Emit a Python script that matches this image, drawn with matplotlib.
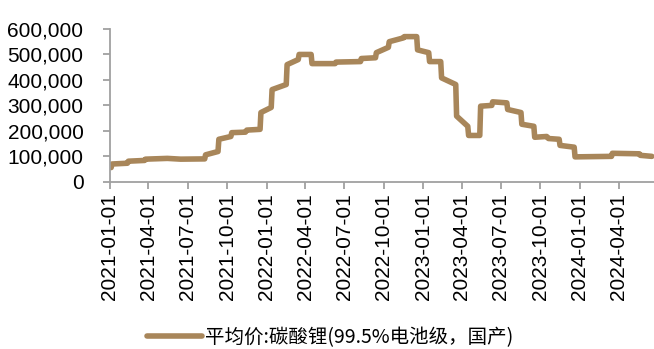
import matplotlib
matplotlib.use("Agg")
import matplotlib.pyplot as plt
import matplotlib.dates as mdates
import matplotlib.ticker as mticker
import pandas as pd

# 平均价:碳酸锂(99.5%电池级,国产) - change points
dates = ["2021-01-04", "2021-01-06", "2021-02-11", "2021-02-13", "2021-03-23", "2021-03-25",
         "2021-05-15", "2021-06-15", "2021-08-10", "2021-08-12", "2021-09-10", "2021-09-12",
         "2021-10-10", "2021-10-12", "2021-11-13", "2021-11-16", "2021-12-17", "2021-12-19",
         "2022-01-12", "2022-01-14", "2022-02-16", "2022-02-18", "2022-03-16", "2022-03-18",
         "2022-04-15", "2022-04-17", "2022-06-10", "2022-06-12", "2022-08-08", "2022-08-10",
         "2022-09-12", "2022-09-14", "2022-10-12", "2022-10-14", "2022-11-16", "2022-11-18",
         "2022-12-17", "2022-12-19", "2023-01-14", "2023-01-16", "2023-02-11", "2023-02-13",
         "2023-03-18", "2023-03-20", "2023-04-15", "2023-04-17", "2023-05-13", "2023-05-15",
         "2023-06-10", "2023-06-12", "2023-07-15", "2023-07-17", "2023-08-17", "2023-08-19",
         "2023-09-16", "2023-09-18", "2023-10-16", "2023-10-20", "2023-11-14", "2023-11-16",
         "2023-12-19", "2023-12-21", "2024-03-15", "2024-03-17", "2024-05-19", "2024-05-21",
         "2024-06-17"]
prices = [56000, 70000, 73000, 81000, 84000, 89000,
          92000, 89000, 90000, 106000, 119000, 167000,
          178000, 193000, 195000, 203000, 206000, 272000,
          292000, 362000, 382000, 460000, 480000, 500000,
          500000, 464000, 464000, 470000, 472000, 484000,
          487000, 507000, 528000, 550000, 565000, 570000,
          570000, 518000, 507000, 472000, 472000, 408000,
          382000, 258000, 218000, 182000, 182000, 297000,
          300000, 314000, 310000, 284000, 272000, 226000,
          218000, 175000, 178000, 170000, 167000, 143000,
          136000, 98000, 100000, 112000, 110000, 104000,
          100000]
series_name = "平均价:碳酸锂(99.5%电池级，国产)"

x = pd.to_datetime(dates)

fig = plt.figure(figsize=(6.54, 3.49), dpi=100)
ax = fig.add_axes([0.168, 0.479, 0.832, 0.438])

ax.plot(x, prices, color="#A8865A", linewidth=4, solid_joinstyle="round",
        solid_capstyle="round", label=series_name)

ax.set_ylim(0, 600000)
ax.set_xlim(pd.Timestamp("2021-01-01"), pd.Timestamp("2024-06-22"))
ax.yaxis.set_major_locator(mticker.MultipleLocator(100000))
ax.yaxis.set_major_formatter(mticker.FuncFormatter(lambda v, p: f"{int(v):,}"))

ticks = pd.date_range("2021-01-01", "2024-04-01", freq="QS")
ax.set_xticks(ticks)
ax.xaxis.set_major_formatter(mdates.DateFormatter("%Y-%m-%d"))
for lab in ax.get_xticklabels():
    lab.set_rotation(90)

for s in ["top", "right"]:
    ax.spines[s].set_visible(False)
for s in ["left", "bottom"]:
    ax.spines[s].set_color("#A0A0A0")
    ax.spines[s].set_linewidth(1.3)
ax.tick_params(axis="both", colors="#A0A0A0", length=5, width=1.3,
               labelcolor="black", labelsize=15)
ax.tick_params(axis="y", pad=14)
ax.tick_params(axis="x", pad=3)
for lab in ax.get_xticklabels() + ax.get_yticklabels():
    lab.set_family("Liberation Sans")

fig.legend(loc="center", bbox_to_anchor=(0.505, 0.034), frameon=False,
           prop={"family": ["Noto Sans CJK SC", "DejaVu Sans"], "size": 14},
           handlelength=2.8, handletextpad=0.15)

fig.savefig("out.png", dpi=100)
